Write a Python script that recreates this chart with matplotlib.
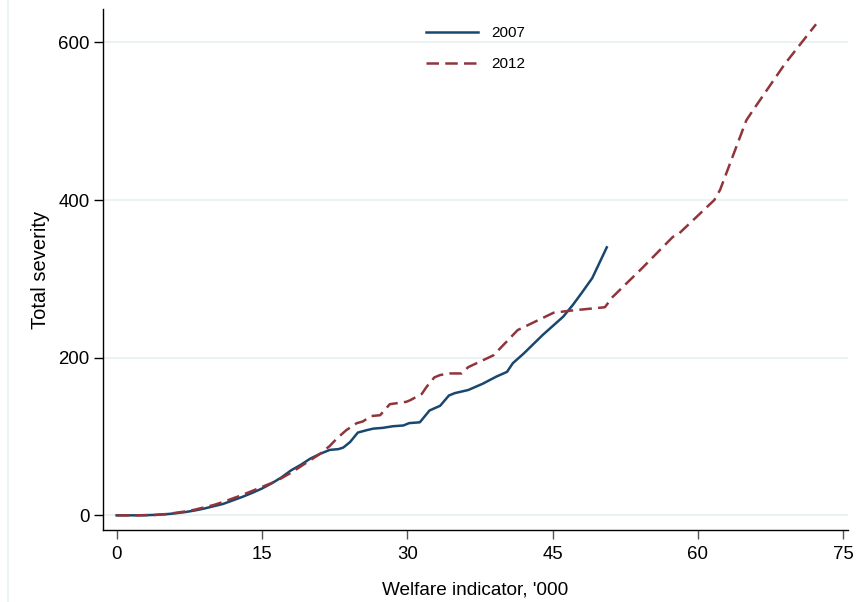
import matplotlib
matplotlib.use("Agg")
import matplotlib.pyplot as plt
from matplotlib.lines import Line2D

# Welfare indicator ('000) and cumulative total severity, 2007 survey
welfare_2007 = [0, 1, 2, 3, 4, 5, 6, 7, 8, 9, 10, 11, 12, 13, 14, 15, 16, 17, 18, 19,
                20, 21, 22, 22.9, 23.4, 24.1, 24.9, 25.8, 26.5, 27.5, 28.5, 29.6, 30.2,
                31.3, 32.3, 33.4, 34.3, 34.9, 36.3, 37.8, 39.2, 40.3, 40.9, 42.0, 44.0,
                46.1, 47.1, 48.0, 49.1, 50.6]
severity_2007 = [0, 0, 0, 0.2, 0.6, 1.3, 2.5, 4, 6, 8.5, 11.5, 14.5, 19, 23.5, 28.5, 34,
                 40.5, 48, 57, 64, 72, 78, 83, 84, 86, 93, 105, 108, 110, 111, 113, 114,
                 117, 118, 133, 139, 152, 155, 159, 167, 176, 182, 193, 205, 229, 252,
                 267, 282, 301, 340]

# Same measure, 2012 survey
welfare_2012 = [0, 1, 2, 3, 4, 5, 6, 7, 8, 9, 10, 11, 12, 13, 14, 15, 16, 17, 18, 19,
                20, 21, 22, 22.7, 23.7, 24.8, 25.4, 26.3, 27.2, 28.2, 29.9, 30.3, 31.5,
                32.0, 32.8, 33.4, 34.4, 35.6, 36.3, 38.9, 41.4, 45.1, 46.8, 50.4, 51.2,
                54.2, 57.4, 58.1, 61.7, 62.3, 65.0, 65.7, 69.0, 72.2]
severity_2012 = [0, 0, 0, 0.2, 0.5, 1.5, 3, 4.8, 7, 10, 13, 17, 21.5, 26, 31, 36, 41, 47,
                 54, 62, 70, 78, 88, 97, 108, 117, 119, 126, 127, 141, 144, 146, 154,
                 163, 175, 178, 180, 180, 188, 203, 235, 257, 259.6, 264, 277, 313, 353,
                 358, 400, 413, 501, 514, 573, 623]

x_ticks = [0, 15, 30, 45, 60, 75]
y_ticks = [0, 200, 400, 600]
series_labels = ["2007", "2012"]

BLUE = "#1a476f"
MAROON = "#90353b"
GRID = "#eaf2f3"

plt.rcParams["font.family"] = ["Liberation Sans", "DejaVu Sans"]
plt.rcParams["lines.scale_dashes"] = False

fig = plt.figure(figsize=(8.58, 6.02), dpi=100)
ax = fig.add_axes([0.120, 0.1196, 0.868, 0.8654])

# thin outer frame line on the left of the graph region
fig.add_artist(Line2D([7.5 / 858, 7.5 / 858], [0, 1], transform=fig.transFigure,
                      color=GRID, lw=1.2))

ax.plot(welfare_2007, severity_2007, color=BLUE, lw=1.8, label=series_labels[0],
        solid_joinstyle="round")
ax.plot(welfare_2012, severity_2012, color=MAROON, lw=1.8, dashes=(9, 4.5),
        label=series_labels[1])

ax.set_xlim(-1.41, 75.47)
ax.set_ylim(-18.6, 642.3)

ax.set_xticks(x_ticks)
ax.set_yticks(y_ticks)
ax.set_xticklabels([str(v) for v in x_ticks])
ax.set_yticklabels([str(v) for v in y_ticks])

for y in y_ticks:
    ax.axhline(y, color=GRID, lw=1.4, zorder=0)

for side in ("top", "right"):
    ax.spines[side].set_visible(False)
for side in ("left", "bottom"):
    ax.spines[side].set_color("black")
    ax.spines[side].set_linewidth(1.0)

ax.tick_params(axis="y", length=6.5, width=1.0, color="black", labelsize=13.4, pad=3)
ax.tick_params(axis="x", length=6.5, width=1.0, color="#555555", labelsize=13.4, pad=5)

ax.set_xlabel("Welfare indicator, '000", fontsize=13.7, labelpad=13)
ax.set_ylabel("Total severity", fontsize=14.5, labelpad=6)

leg = ax.legend(loc="upper center", bbox_to_anchor=(0.5007, 1.0), frameon=False,
                fontsize=11, handlelength=3.4, handletextpad=0.9, labelspacing=1.1,
                borderaxespad=0.74)

fig.savefig("out.png", dpi=100, facecolor="white")
